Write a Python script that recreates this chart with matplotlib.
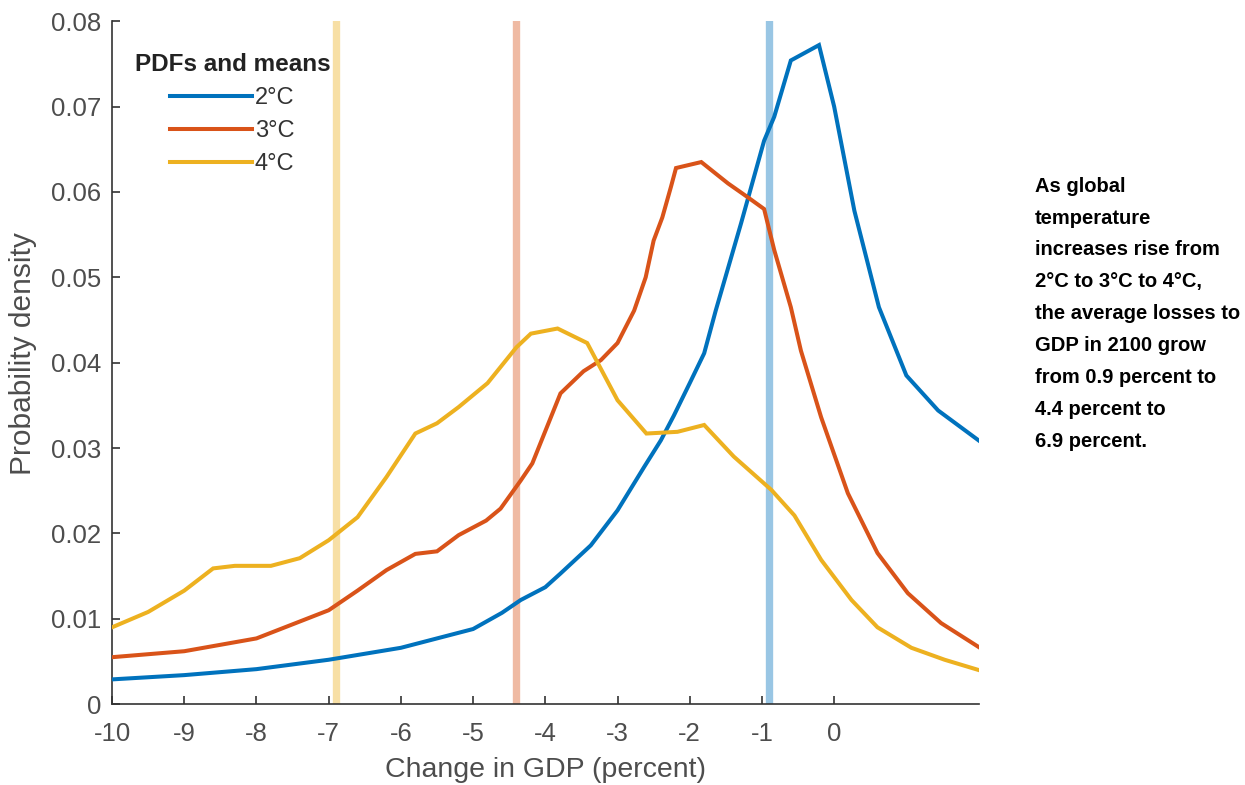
import matplotlib
matplotlib.use("Agg")
import matplotlib.pyplot as plt

# GDP change (percent) and probability density for each warming scenario
x_2c = [-10, -9, -8, -7, -6, -5, -4.6, -4.34, -4.0, -3.79, -3.37, -3.0, -2.63,
        -2.4, -2.22, -2.0, -1.8, -1.64, -1.29, -0.97, -0.83, -0.6, -0.21, 0.0,
        0.28, 0.62, 1.0, 1.44, 2.0]
pdf_2c = [0.0029, 0.0034, 0.0041, 0.0052, 0.0066, 0.0088, 0.0107, 0.0122, 0.0137,
          0.0153, 0.0186, 0.0227, 0.0278, 0.0309, 0.0338, 0.0376, 0.0411, 0.0461,
          0.0563, 0.066, 0.0688, 0.0754, 0.0772, 0.070, 0.0578, 0.0465, 0.0385,
          0.0344, 0.0309]

x_3c = [-10, -9, -8, -7, -6.6, -6.2, -5.8, -5.5, -5.2, -4.82, -4.62, -4.34, -4.18,
        -3.79, -3.47, -3.23, -3.0, -2.77, -2.61, -2.5, -2.38, -2.26, -2.19, -1.84,
        -1.47, -1.2, -0.97, -0.83, -0.6, -0.46, -0.18, 0.19, 0.6, 1.02, 1.48, 2.0]
pdf_3c = [0.0055, 0.0062, 0.0077, 0.011, 0.0133, 0.0157, 0.0176, 0.0179, 0.0198,
          0.0215, 0.0229, 0.0262, 0.0282, 0.0364, 0.039, 0.0403, 0.0423, 0.0461,
          0.05, 0.0543, 0.057, 0.0606, 0.0628, 0.0635, 0.061, 0.0594, 0.058,
          0.0532, 0.0465, 0.0414, 0.0336, 0.0247, 0.0177, 0.013, 0.0095, 0.0067]

x_4c = [-10, -9.5, -9, -8.6, -8.3, -7.8, -7.4, -7, -6.6, -6.2, -5.8, -5.5, -5.2,
        -4.8, -4.4, -4.2, -3.83, -3.42, -3.0, -2.6, -2.17, -1.8, -1.39, -0.87,
        -0.55, -0.18, 0.24, 0.6, 1.07, 1.53, 2.0]
pdf_4c = [0.009, 0.0108, 0.0133, 0.0159, 0.0162, 0.0162, 0.0171, 0.0192, 0.0219,
          0.0266, 0.0317, 0.0329, 0.0348, 0.0376, 0.0418, 0.0434, 0.044, 0.0423,
          0.0356, 0.0317, 0.0319, 0.0327, 0.029, 0.0251, 0.0221, 0.0169, 0.0122,
          0.009, 0.0066, 0.0052, 0.004]

# Mean GDP change for each scenario
scenario_labels = ["2°C", "3°C", "4°C"]
mean_changes = [-0.9, -4.4, -6.9]

x_ticks = [-10, -9, -8, -7, -6, -5, -4, -3, -2, -1, 0]
y_ticks = [0, 0.01, 0.02, 0.03, 0.04, 0.05, 0.06, 0.07, 0.08]
y_tick_labels = ["0", "0.01", "0.02", "0.03", "0.04", "0.05", "0.06", "0.07", "0.08"]

colors = ["#0072BD", "#D95319", "#EDB120"]
font = ["Liberation Sans", "DejaVu Sans"]
plt.rcParams["font.family"] = font

fig = plt.figure(figsize=(12.45, 7.85), dpi=100)
ax = fig.add_axes([0.09, 0.103, 0.696, 0.870])

series = [(x_2c, pdf_2c), (x_3c, pdf_3c), (x_4c, pdf_4c)]
for (xs, ys), lab, col in zip(series, scenario_labels, colors):
    ax.plot(xs, ys, color=col, lw=2.9, label=lab, solid_joinstyle="miter", zorder=3)

for m, col in zip(mean_changes, colors):
    ax.axvline(m, color=col, lw=5.3, alpha=0.4, zorder=2)

ax.set_xlim(-10, 2)
ax.set_ylim(0, 0.08)
ax.set_xticks(x_ticks)
ax.set_xticklabels([str(t) for t in x_ticks])
ax.set_yticks(y_ticks)
ax.set_yticklabels(y_tick_labels)

gray = "#4d4d4d"
for s in ["top", "right"]:
    ax.spines[s].set_visible(False)
for s in ["left", "bottom"]:
    ax.spines[s].set_color("#333333")
    ax.spines[s].set_linewidth(1.2)
ax.tick_params(direction="in", length=6, width=1.2, color="#333333",
               labelcolor=gray, labelsize=18.5)
ax.tick_params(axis="x", pad=13)
ax.tick_params(axis="y", pad=8)

ax.set_xlabel("Change in GDP (percent)", fontsize=20.5, color=gray, labelpad=8)
ax.set_ylabel("Probability density", fontsize=21.5, color=gray)
ax.yaxis.set_label_coords(-0.087, 0.514)

leg = ax.legend(loc="upper left", bbox_to_anchor=(0.026, 0.953), frameon=False,
                title="PDFs and means", fontsize=17, handlelength=3.45,
                handletextpad=0.12, labelspacing=0.46, borderaxespad=0,
                borderpad=0)
leg.get_title().set_fontweight("bold")
leg.get_title().set_fontsize(17.5)
leg.get_title().set_color("#222222")
for t in leg.get_texts():
    t.set_color("#333333")

note = ("As global\ntemperature\nincreases rise from\n2°C to 3°C to 4°C,\n"
        "the average losses to\nGDP in 2100 grow\nfrom 0.9 percent to\n"
        "4.4 percent to\n6.9 percent.")
fig.text(0.831, 0.775, note, ha="left", va="top", fontsize=14.5,
         fontweight="bold", family=["Liberation Sans Narrow", "Liberation Sans"],
         linespacing=1.86, color="black")

fig.savefig("out.png", dpi=100)
